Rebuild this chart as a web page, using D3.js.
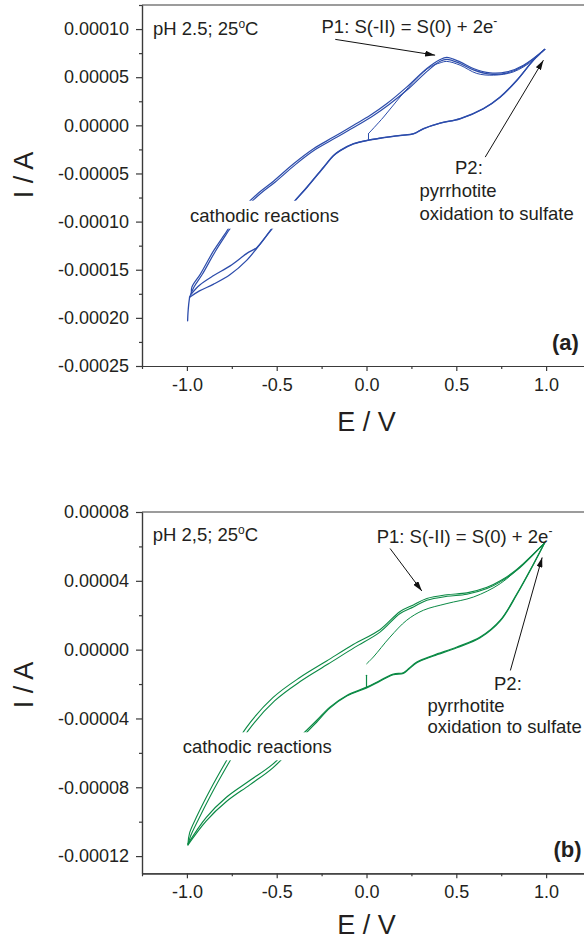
<!DOCTYPE html>
<html><head><meta charset="utf-8">
<script src="https://cdn.jsdelivr.net/npm/d3@7"></script>
<style>
body{margin:0;background:#fff}
svg{display:block}
text{font-family:"Liberation Sans",Arial,sans-serif;fill:#231f20}
</style>
</head><body>
<svg id="c" width="584" height="940"></svg>
<script>
// ---------- shared x axis ----------
const xTicks = [-1.0, -0.5, 0.0, 0.5, 1.0];
const xTickLabels = ["-1.0", "-0.5", "0.0", "0.5", "1.0"];
const xMinorTicks = [-1.25, -0.75, -0.25, 0.25, 0.75, 1.25];

// ---------- panel (a) ----------
const aYTicks = [0.00010, 0.00005, 0.0, -0.00005, -0.00010, -0.00015, -0.00020, -0.00025];
const aYTickLabels = ["0.00010", "0.00005", "0.00000", "-0.00005", "-0.00010", "-0.00015", "-0.00020", "-0.00025"];
const aYMinor = [0.000125, 0.000075, 0.000025, -0.000025, -0.000075, -0.000125, -0.000175, -0.000225];

const aStart = [[0.011, -14.6e-6], [0.011, -8.6e-6]];
const aFwd1 = [[0.011, -8.6e-6], [0.095, 8.6e-6], [0.187, 29.5e-6], [0.280, 48.6e-6], [0.354, 60.7e-6],
  [0.410, 64.9e-6], [0.447, 66.4e-6], [0.521, 62.5e-6], [0.614, 53.9e-6], [0.707, 52.1e-6],
  [0.818, 55.5e-6], [0.929, 67.7e-6], [0.992, 78.9e-6]];
const aRev1 = [[0.992, 78.9e-6], [0.929, 67.7e-6], [0.837, 46.9e-6], [0.744, 29.5e-6], [0.651, 17.4e-6],
  [0.521, 7.0e-6], [0.410, 2.4e-6], [0.317, -3.4e-6], [0.262, -8.6e-6], [0.187, -10.4e-6],
  [0.076, -13.2e-6], [0.002, -15.6e-6], [-0.072, -19.1e-6], [-0.146, -26.0e-6], [-0.184, -31.3e-6],
  [-0.239, -43.4e-6], [-0.332, -64.3e-6], [-0.406, -79.9e-6], [-0.536, -109.4e-6], [-0.610, -126.8e-6],
  [-0.666, -133.0e-6], [-0.759, -146.0e-6], [-0.851, -156.0e-6], [-0.930, -166.0e-6], [-0.975, -175.0e-6]];
const aFwd2 = [[-0.975, -175.0e-6], [-0.972, -168.0e-6], [-0.925, -154.5e-6], [-0.851, -130.2e-6],
  [-0.776, -109.4e-6], [-0.740, -98.5e-6], [-0.680, -84.5e-6], [-0.600, -70.0e-6], [-0.518, -58.0e-6],
  [-0.406, -39.9e-6], [-0.295, -24.3e-6], [-0.184, -12.2e-6], [-0.072, 0.0], [0.021, 10.4e-6],
  [0.114, 22.6e-6], [0.225, 39.9e-6], [0.336, 59.1e-6], [0.410, 68.4e-6], [0.447, 70.5e-6],
  [0.521, 65.9e-6], [0.595, 59.1e-6], [0.688, 54.5e-6], [0.781, 55.5e-6], [0.874, 62.5e-6],
  [0.992, 78.9e-6]];
const aRev2 = [[0.992, 78.9e-6], [0.929, 67.5e-6], [0.837, 46.6e-6], [0.744, 29.2e-6], [0.651, 17.2e-6],
  [0.521, 6.8e-6], [0.410, 2.2e-6], [0.317, -3.6e-6], [0.262, -8.8e-6], [0.187, -10.6e-6],
  [0.076, -13.4e-6], [0.002, -15.8e-6], [-0.072, -19.3e-6], [-0.146, -26.3e-6], [-0.184, -31.6e-6],
  [-0.239, -43.8e-6], [-0.332, -64.6e-6], [-0.406, -80.2e-6], [-0.536, -109.8e-6], [-0.610, -127.5e-6],
  [-0.666, -140.0e-6], [-0.759, -155.0e-6], [-0.851, -165.0e-6], [-0.930, -172.0e-6], [-0.985, -178.6e-6]];
const aFwd3 = [[-0.985, -178.6e-6], [-0.962, -168.5e-6], [-0.915, -155.0e-6], [-0.842, -131.0e-6],
  [-0.766, -109.0e-6], [-0.730, -98.8e-6], [-0.670, -85.0e-6], [-0.590, -70.8e-6], [-0.508, -58.8e-6],
  [-0.396, -40.8e-6], [-0.285, -25.2e-6], [-0.174, -13.2e-6], [-0.062, -1.2e-6], [0.031, 9.2e-6],
  [0.124, 21.4e-6], [0.235, 38.2e-6], [0.340, 56.6e-6], [0.410, 66.6e-6], [0.447, 68.6e-6],
  [0.521, 64.3e-6], [0.595, 57.6e-6], [0.688, 53.2e-6], [0.781, 54.3e-6], [0.874, 61.7e-6],
  [0.992, 78.9e-6]];
const aTail = [[-0.985, -178.6e-6], [-0.990, -186.0e-6], [-0.994, -195.0e-6], [-0.996, -203.0e-6]];

// ---------- panel (b) ----------
const bYTicks = [0.00008, 0.00004, 0.0, -0.00004, -0.00008, -0.00012];
const bYTickLabels = ["0.00008", "0.00004", "0.00000", "-0.00004", "-0.00008", "-0.00012"];
const bYMinor = [0.00006, 0.00002, -0.00002, -0.00006, -0.00010];

const bStart = [[0.0, -14.9e-6], [0.0, -21.8e-6]];
const bFwd1 = [[0.001, -8.2e-6], [0.038, -4.3e-6], [0.131, 7.3e-6], [0.224, 17.1e-6], [0.317, 22.9e-6],
  [0.448, 26.8e-6], [0.596, 30.6e-6], [0.745, 38.4e-6], [0.875, 50.1e-6], [0.992, 62.1e-6]];
const bRev1 = [[0.992, 62.1e-6], [0.931, 50.1e-6], [0.838, 32.6e-6], [0.745, 17.1e-6], [0.633, 7.3e-6],
  [0.503, 1.5e-6], [0.373, -3.3e-6], [0.280, -7.2e-6], [0.235, -11.0e-6], [0.205, -13.4e-6],
  [0.150, -14.2e-6], [0.075, -17.9e-6], [0.001, -21.8e-6], [-0.110, -26.6e-6], [-0.204, -33.4e-6],
  [-0.278, -41.2e-6], [-0.353, -48.9e-6], [-0.520, -66.4e-6], [-0.650, -76.1e-6], [-0.780, -85.8e-6],
  [-0.892, -97.5e-6], [-0.994, -112.9e-6]];
const bRev2 = [[0.992, 62.1e-6], [0.931, 49.8e-6], [0.838, 32.2e-6], [0.745, 16.7e-6], [0.633, 6.9e-6],
  [0.503, 1.1e-6], [0.373, -3.7e-6], [0.280, -7.6e-6], [0.235, -11.4e-6], [0.205, -13.8e-6],
  [0.150, -14.6e-6], [0.075, -18.3e-6], [0.001, -22.2e-6], [-0.110, -27.0e-6], [-0.204, -34.0e-6],
  [-0.278, -42.2e-6], [-0.353, -50.3e-6], [-0.520, -68.6e-6], [-0.650, -78.6e-6], [-0.780, -88.3e-6],
  [-0.892, -99.5e-6], [-0.994, -113.5e-6]];
const bFwd2 = [[-0.994, -112.9e-6], [-0.985, -106.5e-6], [-0.948, -97.6e-6], [-0.873, -82.0e-6],
  [-0.780, -64.6e-6], [-0.669, -45.3e-6], [-0.520, -27.8e-6], [-0.371, -16.2e-6], [-0.222, -6.6e-6],
  [-0.074, 3.0e-6], [0.075, 11.6e-6], [0.187, 22.2e-6], [0.261, 26.0e-6], [0.336, 29.7e-6],
  [0.448, 31.9e-6], [0.559, 33.0e-6], [0.671, 36.2e-6], [0.745, 40.0e-6], [0.838, 46.7e-6],
  [0.992, 62.1e-6]];
const bFwd3 = [[-0.994, -113.5e-6], [-0.980, -108.5e-6], [-0.940, -99.6e-6], [-0.865, -84.2e-6],
  [-0.772, -66.8e-6], [-0.661, -47.4e-6], [-0.512, -29.8e-6], [-0.363, -18.1e-6], [-0.214, -8.4e-6],
  [-0.066, 1.3e-6], [0.075, 10.2e-6], [0.187, 21.0e-6], [0.261, 24.8e-6], [0.336, 28.7e-6],
  [0.448, 31.0e-6], [0.559, 32.2e-6], [0.671, 35.5e-6], [0.745, 39.4e-6], [0.838, 46.2e-6],
  [0.992, 62.1e-6]];

const panels = [
  {
    top: 5, bottom: 366, yDomain: [-0.00025, 0.000125],
    yTicks: aYTicks, yLabels: aYTickLabels, yMinor: aYMinor,
    color: "#2c4cab",
    series: [
      {d: aRev1, w: 1.3}, {d: aRev2, w: 1.3}, {d: aFwd2, w: 1.2}, {d: aFwd3, w: 1.2},
      {d: aFwd1, w: 1.0}, {d: aStart, w: 1.0, linear: true}, {d: aTail, w: 1.3}
    ],
    titleY: 175, xTitleBase: 431,
    ph: ["pH 2.5; 25", "C"], phPos: [11, 30],
    p1Pos: [179.5, 27.5], p2Pos: [313, 168.5], pyrPos: [277.5, 191.7], oxPos: [277.5, 215],
    cathPos: [48, 216.7], tag: "(a)", tagPos: [410, 345],
    arrows: [[[-0.174, 89.3e-6], [0.382, 72.9e-6]], [[0.661, -33.0e-6], [0.985, 67.7e-6]]]
  },
  {
    top: 512, bottom: 873.3, yDomain: [-0.00013, 0.00008],
    yTicks: bYTicks, yLabels: bYTickLabels, yMinor: bYMinor,
    color: "#0b8a45",
    series: [
      {d: bRev1, w: 1.2}, {d: bRev2, w: 1.2}, {d: bFwd2, w: 1.1}, {d: bFwd3, w: 1.1},
      {d: bFwd1, w: 1.0}, {d: bStart, w: 1.2, linear: true}
    ],
    titleY: 685, xTitleBase: 934,
    ph: ["pH 2,5; 25", "C"], phPos: [10.7, 29],
    p1Pos: [234.7, 31.3], p2Pos: [352, 178], pyrPos: [285.5, 199.7], oxPos: [285.5, 221.3],
    cathPos: [40.7, 241.3], tag: "(b)", tagPos: [411.5, 344.7],
    arrows: [[[0.131, 58.8e-6], [0.308, 34.1e-6]], [[0.801, -12.1e-6], [0.978, 53.6e-6]]]
  }
];

const svg = d3.select("#c");
const axisColor = "#3a3a3a";
const left = 142, right = 600;
const x = d3.scaleLinear().domain([-1.25, 1.3]).range([left, right]);

const defs = svg.append("defs");
defs.append("marker").attr("id", "ah").attr("viewBox", "0 0 10 6")
  .attr("refX", 10).attr("refY", 3).attr("markerWidth", 10).attr("markerHeight", 6)
  .attr("markerUnits", "userSpaceOnUse").attr("orient", "auto")
  .append("path").attr("d", "M0,0 L10,3 L0,6 Z").attr("fill", "#111");

panels.forEach(p => {
  const y = d3.scaleLinear().domain(p.yDomain).range([p.bottom, p.top]);
  const g = svg.append("g");

  // curves
  const curve = d3.line().x(d => x(d[0])).y(d => y(d[1])).curve(d3.curveCatmullRom.alpha(0.5));
  const lin = d3.line().x(d => x(d[0])).y(d => y(d[1]));
  p.series.forEach(s => {
    g.append("path").attr("d", (s.linear ? lin : curve)(s.d))
      .attr("fill", "none").attr("stroke", p.color).attr("stroke-width", s.w)
      .attr("stroke-linejoin", "round").attr("stroke-linecap", "round");
  });

  // axes
  const yAx = d3.axisLeft(y).tickValues(p.yTicks).tickFormat((d, i) => p.yLabels[i])
    .tickSize(6).tickSizeOuter(0).tickPadding(7);
  const ya = g.append("g").attr("transform", `translate(${left},0)`).call(yAx);
  const yMin = d3.axisLeft(y).tickValues(p.yMinor).tickFormat("").tickSize(3).tickSizeOuter(0);
  const ym = g.append("g").attr("transform", `translate(${left},0)`).call(yMin);
  const xAx = d3.axisBottom(x).tickValues(xTicks).tickFormat((d, i) => xTickLabels[i])
    .tickSize(5).tickSizeOuter(0).tickPadding(7);
  const xa = g.append("g").attr("transform", `translate(0,${p.bottom})`).call(xAx);
  const xMin = d3.axisBottom(x).tickValues(xMinorTicks).tickFormat("").tickSize(3).tickSizeOuter(0);
  const xm = g.append("g").attr("transform", `translate(0,${p.bottom})`).call(xMin);
  [ya, ym, xa, xm].forEach(a => {
    a.selectAll("path,line").attr("stroke", axisColor).attr("stroke-width", 1.2);
    a.selectAll("text").attr("font-size", 18).attr("font-family", '"Liberation Sans",Arial,sans-serif').attr("fill", "#231f20");
  });
  g.append("line").attr("x1", left).attr("x2", right).attr("y1", p.top).attr("y2", p.top)
    .attr("stroke", axisColor).attr("stroke-width", 1.2);

  // axis titles
  g.append("text").attr("transform", `translate(33,${p.titleY}) rotate(-90)`)
    .attr("text-anchor", "middle").attr("font-size", 27).text("I / A");
  g.append("text").attr("x", x(0)).attr("y", p.xTitleBase)
    .attr("text-anchor", "middle").attr("font-size", 27).text("E / V");

  // annotations
  const fs = 18.5;
  const at = (pos) => [left + pos[0], p.top + pos[1]];
  const ph = g.append("text").attr("x", at(p.phPos)[0]).attr("y", at(p.phPos)[1]).attr("font-size", fs);
  ph.append("tspan").text(p.ph[0]);
  ph.append("tspan").attr("font-size", 12).attr("dy", -7).text("o");
  ph.append("tspan").attr("dy", 7).text(p.ph[1]);

  const p1 = g.append("text").attr("x", at(p.p1Pos)[0]).attr("y", at(p.p1Pos)[1]).attr("font-size", fs);
  p1.append("tspan").text("P1: S(-II) = S(0) + 2e");
  p1.append("tspan").attr("font-size", 12).attr("dy", -8).text("-");

  g.append("text").attr("x", at(p.p2Pos)[0]).attr("y", at(p.p2Pos)[1]).attr("font-size", fs).text("P2:");
  g.append("text").attr("x", at(p.pyrPos)[0]).attr("y", at(p.pyrPos)[1]).attr("font-size", fs).text("pyrrhotite");
  g.append("text").attr("x", at(p.oxPos)[0]).attr("y", at(p.oxPos)[1]).attr("font-size", fs).text("oxidation to sulfate");

  const cath = g.append("text").attr("x", at(p.cathPos)[0]).attr("y", at(p.cathPos)[1])
    .attr("font-size", fs).text("cathodic reactions");
  const bb = cath.node().getBBox();
  g.insert("rect", function () { return cath.node(); })
    .attr("x", bb.x - 3).attr("y", bb.y - 4).attr("width", bb.width + 6).attr("height", bb.height + 7)
    .attr("fill", "#fff");

  g.append("text").attr("x", at(p.tagPos)[0]).attr("y", at(p.tagPos)[1])
    .attr("font-size", 22).attr("font-weight", "bold").text(p.tag);

  p.arrows.forEach(a => {
    g.append("line").attr("x1", x(a[0][0])).attr("y1", y(a[0][1]))
      .attr("x2", x(a[1][0])).attr("y2", y(a[1][1]))
      .attr("stroke", "#111").attr("stroke-width", 1).attr("marker-end", "url(#ah)");
  });
});
</script>
</body></html>
